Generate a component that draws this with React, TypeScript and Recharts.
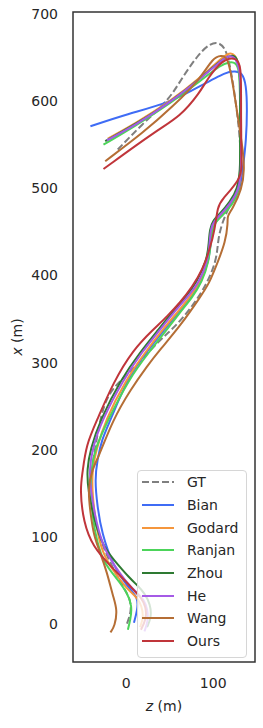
import { LineChart, Line, XAxis, YAxis, Legend, ReferenceArea } from "recharts";

// each path is a list of [z, x] pairs in metres, in travel order
type Pt = [number, number];

const GT_PATH: Pt[] = [[1,1],[6,15],[5,29],[-5,46],[-21,75],[-38,120],[-40,155],[-39,181],[-34,212],[-26,254],[-12,275],[8,292],[39,327],[58,342],[88,380],[105,418],[105,445],[116,476],[131,499],[132,533],[130,567],[124,613],[119,642],[114,661],[105,668],[96,665],[85,656],[65,628],[50,602],[20,575],[-10,544]];
const BIAN_PATH: Pt[] = [[9,2],[13,17],[14,31],[1,44],[-15,67],[-28,105],[-33,135],[-36,166],[-33,189],[-28,212],[-18,234],[1,281],[23,312],[44,338],[60,358],[75,375],[86,392],[95,417],[97,437],[99,450],[102,462],[110,469],[122,483],[131,499],[134,522],[138,556],[139,590],[138,619],[133,633],[125,634],[116,634],[85,617],[50,598],[1,585],[-41,571]];
const GODARD_PATH: Pt[] = [[16,-3],[20,8],[18,21],[13,30],[5,38],[0,42],[-16,63],[-28,84],[-34,111],[-39,149],[-39,178],[-34,201],[-24,234],[0,281],[22,312],[42,338],[59,358],[73,375],[85,392],[94,418],[96,438],[97,450],[101,462],[109,469],[120,483],[130,499],[132,522],[132,544],[132,602],[130,642],[125,653],[119,656],[108,648],[88,629],[50,599],[10,574],[-21,557]];
const RANJAN_PATH: Pt[] = [[2,-6],[5,6],[7,21],[1,37],[-10,52],[-26,71],[-33,94],[-38,117],[-41,155],[-40,178],[-36,201],[-21,234],[3,281],[26,312],[47,338],[62,358],[76,375],[87,392],[95,416],[97,436],[99,450],[102,461],[110,468],[122,481],[130,496],[131,522],[131,544],[131,602],[130,636],[126,644],[119,645],[108,641],[88,625],[50,597],[10,571],[-26,550]];
const ZHOU_PATH: Pt[] = [[24,-3],[29,8],[28,23],[21,36],[13,45],[5,52],[-15,75],[-26,89],[-36,117],[-44,155],[-45,178],[-41,201],[-30,234],[-6,281],[16,312],[37,338],[53,358],[68,375],[81,392],[93,418],[95,438],[96,453],[100,464],[108,471],[119,484],[128,499],[131,522],[131,544],[131,602],[131,636],[127,650],[122,653],[110,648],[88,628],[50,598],[10,573],[-24,554]];
const HE_PATH: Pt[] = [[21,-8],[25,3],[25,17],[20,29],[13,36],[2,46],[-13,67],[-25,86],[-34,115],[-41,155],[-42,178],[-39,201],[-28,234],[-3,281],[18,312],[39,338],[55,358],[70,375],[84,392],[94,418],[96,438],[97,453],[101,463],[109,470],[120,483],[130,499],[132,522],[132,544],[132,602],[131,636],[125,651],[117,652],[108,645],[88,628],[50,598],[10,572],[-22,555]];
const WANG_PATH: Pt[] = [[-18,-9],[-13,-2],[-10,17],[-15,32],[-22,60],[-30,83],[-37,101],[-41,128],[-44,155],[-39,178],[-32,191],[-15,235],[5,269],[24,296],[39,315],[62,342],[85,375],[96,392],[105,415],[114,438],[117,461],[116,468],[122,476],[133,499],[136,522],[134,544],[131,564],[123,617],[117,651],[109,652],[100,650],[85,625],[54,594],[20,564],[-24,531]];
const OURS_PATH: Pt[] = [[17,-6],[23,6],[23,20],[17,31],[10,38],[1,48],[-18,67],[-38,89],[-49,117],[-53,155],[-50,174],[-46,206],[-33,235],[-15,277],[8,315],[31,338],[47,353],[62,369],[76,387],[88,407],[96,430],[102,453],[105,479],[110,487],[131,510],[133,525],[132,544],[132,602],[132,640],[127,650],[111,648],[93,625],[85,610],[62,582],[36,567],[-26,522]];

const Z_TICKS = [0, 100];
const X_TICKS = [0, 100, 200, 300, 400, 500, 600, 700];
const Z_DOMAIN: [number, number] = [-61, 148];
const X_DOMAIN: [number, number] = [-43, 702];

const SERIES = [
  { name: "GT", path: GT_PATH, color: "#7f7f7f", dash: "7 3" },
  { name: "Bian", path: BIAN_PATH, color: "#3f6cf5" },
  { name: "Godard", path: GODARD_PATH, color: "#f5963c" },
  { name: "Ranjan", path: RANJAN_PATH, color: "#4cd45a" },
  { name: "Zhou", path: ZHOU_PATH, color: "#2e7a32" },
  { name: "He", path: HE_PATH, color: "#a55ae6" },
  { name: "Wang", path: WANG_PATH, color: "#b56e35" },
  { name: "Ours", path: OURS_PATH, color: "#c0353a" },
];

const FONT = "DejaVu Sans, sans-serif";
const INK = "#262626";

function LegendBox({ payload }: any) {
  const items = (payload || []).slice().sort(
    (a: any, b: any) =>
      SERIES.findIndex((s) => s.name === a.value) - SERIES.findIndex((s) => s.name === b.value)
  );
  return (
    <div
      style={{
        background: "rgba(255,255,255,0.8)",
        border: "1px solid #d6d6d6",
        borderRadius: 4,
        padding: "0 0 4px 0",
        boxSizing: "border-box",
        width: 110,
        fontFamily: FONT,
        fontSize: 14,
        color: INK,
      }}
    >
      {items.map((e: any) => {
        const s = SERIES.find((d) => d.name === e.value);
        return (
          <div key={e.value} style={{ height: 22.7, display: "flex", alignItems: "center" }}>
            <svg width={37} height={4} style={{ flex: "none" }}>
              <line x1={4} y1={2} x2={36} y2={2} stroke={e.color} strokeWidth={2} strokeDasharray={s?.dash} />
            </svg>
            <span style={{ marginLeft: 12 }}>{e.value}</span>
          </div>
        );
      })}
    </div>
  );
}

export default function App() {
  return (
    <div style={{ position: "absolute", left: 0, top: 0, width: 263, height: 728, background: "#fff" }}>
      <LineChart width={263} height={728} margin={{ top: 12, right: 8, bottom: 0, left: 0 }}>
        <XAxis
          type="number"
          dataKey="z"
          domain={Z_DOMAIN}
          ticks={Z_TICKS}
          allowDataOverflow
          height={66}
          axisLine={false}
          tickLine={false}
          tickSize={0}
          tickMargin={16}
          tick={{ fill: INK, fontSize: 14, fontFamily: FONT }}
          label={(p: any) => {
            const vb = p.viewBox || { x: 73, y: 662, width: 182 };
            return (
              <text x={vb.x + vb.width / 2} y={vb.y + 49} textAnchor="middle" fill={INK} fontSize={14} fontFamily={FONT}>
                <tspan fontStyle="italic">z</tspan> (m)
              </text>
            );
          }}
        />
        <YAxis
          type="number"
          dataKey="x"
          domain={X_DOMAIN}
          ticks={X_TICKS}
          allowDataOverflow
          width={73}
          axisLine={false}
          tickLine={false}
          tickSize={0}
          tickMargin={15}
          tick={{ fill: INK, fontSize: 14, fontFamily: FONT }}
          label={(p: any) => {
            const vb = p.viewBox || { x: 0, y: 12, height: 650 };
            const cy = vb.y + vb.height / 2;
            return (
              <text
                x={17}
                y={cy}
                transform={`rotate(-90 17 ${cy})`}
                textAnchor="middle"
                dominantBaseline="central"
                fill={INK}
                fontSize={14}
                fontFamily={FONT}
              >
                <tspan fontStyle="italic">x</tspan> (m)
              </text>
            );
          }}
        />
        <ReferenceArea
          x1={Z_DOMAIN[0]}
          x2={Z_DOMAIN[1]}
          y1={X_DOMAIN[0]}
          y2={X_DOMAIN[1]}
          fill="none"
          stroke="#333"
          strokeWidth={1.5}
          ifOverflow="visible"
        />
        {SERIES.map((s) => (
          <Line
            key={s.name}
            name={s.name}
            data={s.path.map(([z, x]) => ({ z, x }))}
            dataKey="x"
            type="basis"
            stroke={s.color}
            strokeWidth={2}
            strokeDasharray={s.dash}
            strokeLinejoin="round"
            dot={false}
            activeDot={false}
            isAnimationActive={false}
          />
        ))}
        <Legend
          layout="vertical"
          align="center"
          verticalAlign="middle"
          content={<LegendBox />}
          wrapperStyle={{ left: 137, top: 470, width: 110 }}
        />
      </LineChart>
    </div>
  );
}
